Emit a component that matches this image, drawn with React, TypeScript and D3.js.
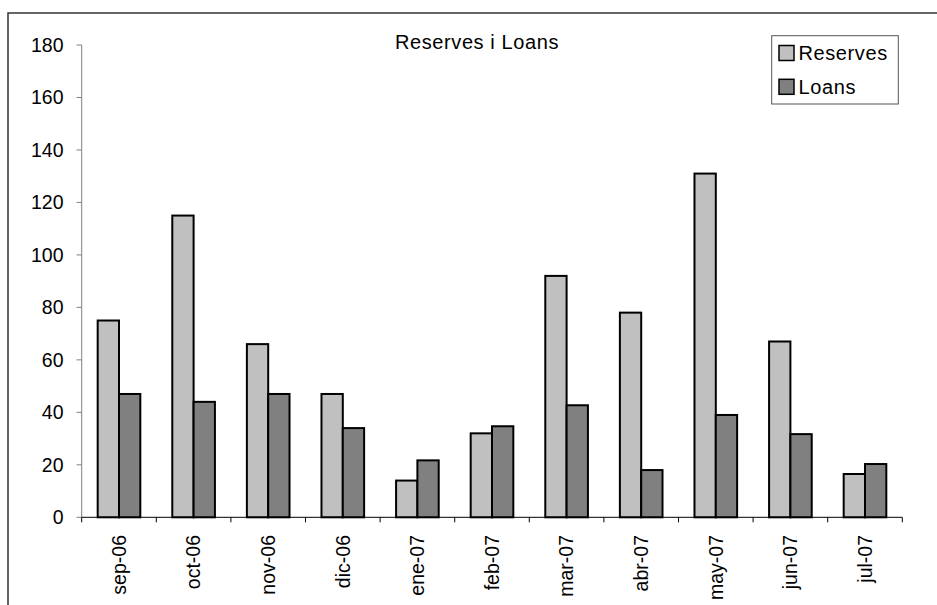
import React from "react";
import * as d3 from "d3";

const categories = ["sep-06", "oct-06", "nov-06", "dic-06", "ene-07", "feb-07", "mar-07", "abr-07", "may-07", "jun-07", "jul-07"];
const reserves = [75, 115, 66, 47, 14, 32, 92, 78, 131, 67, 16.5];
const loans = [47, 44, 47, 34, 21.7, 34.7, 42.7, 18, 39, 31.7, 20.3];
const yTicks = [0, 20, 40, 60, 80, 100, 120, 140, 160, 180];
const seriesNames = ["Reserves", "Loans"];
const seriesColors = ["#c0c0c0", "#808080"];
const title = "Reserves i Loans";

const W = 937;
const H = 605;
const FONT = "'Liberation Sans', Arial, sans-serif";

export default function App() {
  const x = d3.scaleBand<string>().domain(categories).range([81.7, 902.3]).paddingInner(0).paddingOuter(0);
  const y = d3.scaleLinear().domain([0, 180]).range([517.3, 45]);
  const step = x.bandwidth();
  const barW = step / 3.5;
  const groupStart = (step - 2 * barW) / 2;
  const series = [reserves, loans];

  return (
    <svg width={W} height={H} style={{ position: "absolute", left: 0, top: 0, background: "#fff" }} fontFamily={FONT}>
      <rect x={0} y={0} width={W} height={H} fill="#fff" />
      <path d={`M8,${H} L8,13 L${W},13`} fill="none" stroke="#333" strokeWidth={1.5} />
      <text x={477} y={49} textAnchor="middle" fontSize={20} letterSpacing={0.6} fill="#000">{title}</text>

      {/* y axis */}
      <line x1={81.7} x2={81.7} y1={y(180)} y2={y(0)} stroke="#808080" strokeWidth={1} />
      {yTicks.map((t) => (
        <g key={t}>
          <line x1={76.5} x2={81.7} y1={y(t)} y2={y(t)} stroke="#808080" strokeWidth={1} />
          <text x={63.5} y={y(t)} dy="0.35em" textAnchor="end" fontSize={19.5} fill="#000">{t}</text>
        </g>
      ))}

      {/* bars */}
      {series.map((vals, si) =>
        vals.map((v, i) => (
          <rect
            key={`${si}-${i}`}
            x={(x(categories[i]) as number) + groupStart + si * barW}
            y={y(v)}
            width={barW}
            height={y(0) - y(v)}
            fill={seriesColors[si]}
            stroke="#000"
            strokeWidth={2}
          />
        ))
      )}

      {/* x axis */}
      <line x1={81.7} x2={902.3} y1={y(0)} y2={y(0)} stroke="#000" strokeWidth={1} />
      {categories.map((c) => (
        <line key={c} x1={(x(c) as number) + step} x2={(x(c) as number) + step} y1={y(0)} y2={y(0) + 5} stroke="#000" strokeWidth={1} />
      ))}
      <line x1={81.7} x2={81.7} y1={y(0)} y2={y(0) + 5} stroke="#000" strokeWidth={1} />
      {categories.map((c) => (
        <text
          key={c}
          transform={`translate(${(x(c) as number) + step / 2},${535}) rotate(-90)`}
          textAnchor="end"
          dy="0.35em"
          fontSize={19.5}
          fill="#000"
        >
          {c}
        </text>
      ))}

      {/* legend */}
      <rect x={771.7} y={35.7} width={126.6} height={68.3} fill="#fff" stroke="#555" strokeWidth={1} />
      {seriesNames.map((n, i) => (
        <g key={n}>
          <rect x={779} y={45.5 + i * 33.8} width={15} height={15} fill={seriesColors[i]} stroke="#000" strokeWidth={1.5} />
          <text x={798.5} y={53 + i * 33.8} dy="0.35em" fontSize={20} letterSpacing={0.6} fill="#000">{n}</text>
        </g>
      ))}
    </svg>
  );
}
